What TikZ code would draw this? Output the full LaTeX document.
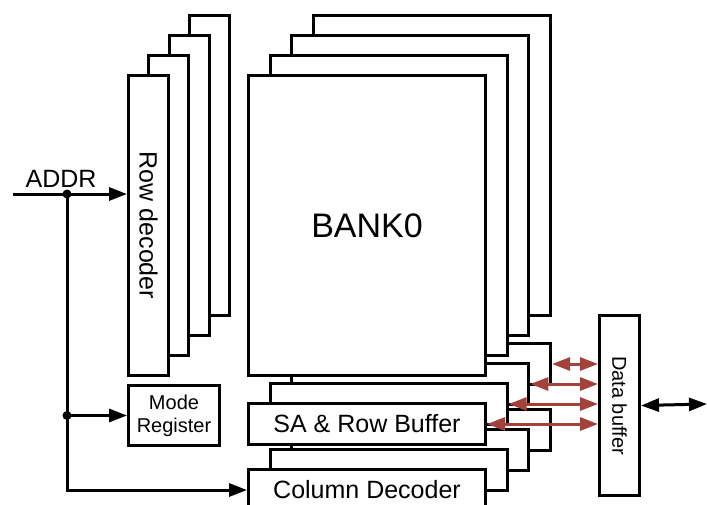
\documentclass[tikz,border=0pt]{standalone}
\usepackage{fontspec}
\setmainfont{Liberation Sans}
\usetikzlibrary{arrows.meta, positioning, calc}
\definecolor{ladrillo}{HTML}{A3423A}
\tikzset{
  capa/.style={rectangle, draw=black, fill=white, line width=3pt, inner sep=0pt, anchor=north west},
  letra/.style={font=\fontsize{25}{30}\selectfont},
  letrach/.style={font=\fontsize{20}{23}\selectfont, align=center},
  flecha/.style={line width=3pt, -{Triangle[length=18pt,width=13pt]}},
  flechab/.style={line width=3pt, {Triangle[length=18pt,width=13pt]}-{Triangle[length=18pt,width=13pt]}},
  flechad/.style={line width=3pt, color=ladrillo, {Triangle[length=18pt,width=13pt]}-{Triangle[length=18pt,width=13pt]}},
  punto/.style={circle, fill=black, inner sep=0pt, minimum size=9pt}
}

\begin{document}
\begin{tikzpicture}[x=1pt,y=-1pt]
  \useasboundingbox (0,0) rectangle (707,504);
  % capas de atras hacia adelante
  \foreach \i in {3,2,1} {
    \node (fila\i) [capa, minimum width=40pt, minimum height=300pt] at ({127+20.3*\i},{74-20*\i}) {};
    \node (banco\i) [capa, minimum width=237pt, minimum height=300pt] at ({247+21.7*\i},{74-20*\i}) {};
    \node (sa\i) [capa, minimum width=237pt, minimum height=41pt] at ({247+21.7*\i},{402-20*\i}) {};
    \node (col\i) [capa, minimum width=237pt, minimum height=41pt] at ({247+21.7*\i},{468-20*\i}) {};
  }
  % capa del frente
  \node (fila0) [capa, minimum width=40pt, minimum height=300pt] at (127,74) {};
  \node (txtfila) [letra, rotate=-90] at (fila0.center) {Row decoder};
  \node (banco0) [capa, minimum width=237pt, minimum height=300pt, font=\fontsize{34}{40}\selectfont] at (247,74) {BANK0};
  \node (sa0) [capa, minimum width=237pt, minimum height=41pt, letra] at (247,402) {SA \& Row Buffer};
  \node (col0) [capa, minimum width=237pt, minimum height=41pt, letra] at (247,468) {Column Decoder};
  \node (modo) [capa, minimum width=91pt, minimum height=60pt, letrach] at (127,384) {Mode\\Register};
  \node (datos) [capa, minimum width=40pt, minimum height=180pt] at (598,314) {};
  \node (txtdatos) [letrach, rotate=-90] at (datos.center) {Data buffer};

  % direcciones
  \coordinate (addrin) at (13,194);
  \coordinate (j1) at (67,194);
  \coordinate (j2) at (j1 |- modo.west);
  \coordinate (salida) at (707,404);
  \node (addr) [letra, anchor=base] at (61,187) {ADDR};
  \draw [flecha] (addrin) -- (addrin -| fila0.west);
  \draw [flecha] (j1) |- (col0.west);
  \draw [flecha] (j2) -- (modo.west);
  \node (p1) [punto] at (j1) {};
  \node (p2) [punto] at (j2) {};

  % buses de datos
  \foreach \i in {0,1,2,3} {
    \draw [flechad] (sa\i.east) -- (sa\i.east -| datos.west);
  }
  \draw [flechab] (datos.east) -- (salida);
\end{tikzpicture}
\end{document}
